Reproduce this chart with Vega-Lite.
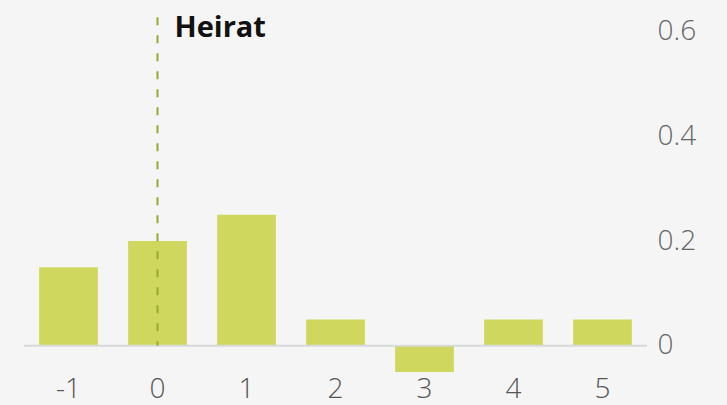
{
  "$schema": "https://vega.github.io/schema/vega-lite/v6.json",
  "width": 623,
  "height": 372,
  "autosize": "none",
  "padding": {"left": 24, "top": 0, "right": 80, "bottom": 33},
  "background": "#f5f5f5",
  "config": {"view": {"stroke": null}, "font": "Open Sans"},
  "datasets": {
    "bars": [
      {"jahr": "-1", "wert": 0.15},
      {"jahr": "0", "wert": 0.2},
      {"jahr": "1", "wert": 0.25},
      {"jahr": "2", "wert": 0.05},
      {"jahr": "3", "wert": -0.05},
      {"jahr": "4", "wert": 0.05},
      {"jahr": "5", "wert": 0.05}
    ],
    "marker": [{"jahr": "0", "top": 0.627, "bottom": 0, "labely": 0.606, "label": "Heirat"}]
  },
  "layer": [
    {
      "data": {"name": "bars"},
      "mark": {"type": "bar", "color": "#cfd75f"},
      "encoding": {
        "x": {
          "field": "jahr", "type": "nominal", "sort": null,
          "scale": {"domain": ["-1", "0", "1", "2", "3", "4", "5"], "paddingInner": 0.34, "paddingOuter": 0.17},
          "axis": {"title": null, "labelAngle": 0, "ticks": false, "domain": false, "labelPadding": 3, "labelFontSize": 28, "labelFontWeight": 300, "labelColor": "#555555", "labelFont": "Open Sans"}
        },
        "y": {
          "field": "wert", "type": "quantitative",
          "scale": {"domain": [-0.05, 0.66], "nice": false, "zero": false},
          "axis": {"orient": "right", "title": null, "values": [0, 0.2, 0.4, 0.6], "format": ".1~f", "grid": false, "ticks": false, "domain": false, "labelPadding": 10, "labelFontSize": 28, "labelFontWeight": 300, "labelColor": "#666666", "labelFont": "Open Sans"}
        }
      }
    },
    {
      "data": {"values": [{"z": 0}]},
      "mark": {"type": "rule", "color": "#d9d9d9", "strokeWidth": 2},
      "encoding": {"y": {"field": "z", "type": "quantitative"}}
    },
    {
      "data": {"name": "marker"},
      "mark": {"type": "rule", "color": "#94ac2e", "strokeWidth": 2, "strokeDash": [8, 10]},
      "encoding": {
        "x": {"field": "jahr", "type": "nominal", "sort": null},
        "y": {"field": "top", "type": "quantitative"},
        "y2": {"field": "bottom"}
      }
    },
    {
      "data": {"name": "marker"},
      "mark": {"type": "text", "align": "left", "baseline": "middle", "dx": 17, "fontSize": 29, "fontWeight": "bold", "color": "#111111", "font": "Open Sans"},
      "encoding": {
        "x": {"field": "jahr", "type": "nominal", "sort": null},
        "y": {"field": "labely", "type": "quantitative"},
        "text": {"field": "label"}
      }
    }
  ]
}
